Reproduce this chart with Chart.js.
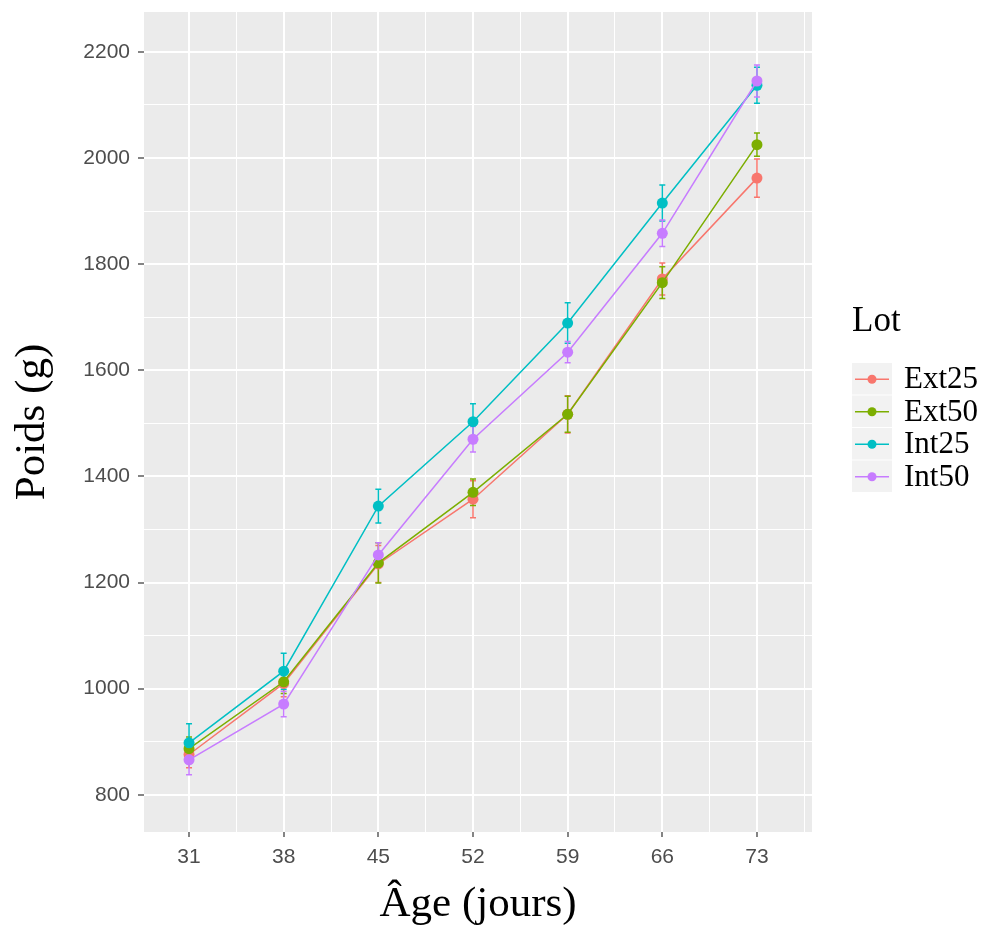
<!DOCTYPE html>
<html>
<head>
<meta charset="utf-8">
<title>Poids selon l'âge</title>
<script src="https://cdn.jsdelivr.net/npm/chart.js@4.4.1/dist/chart.umd.min.js"></script>
<style>
  html, body { margin: 0; padding: 0; background: #ffffff; }
  #cadre { position: relative; width: 983px; height: 931px; }
</style>
</head>
<body>
<div id="cadre"><canvas id="graf"></canvas></div>
<script>
// âges de pesée (jours)
var ages = [31, 38, 45, 52, 59, 66, 73];
var lots = ['Ext25', 'Ext50', 'Int25', 'Int50'];
var couleurs = ['#F8766D', '#7CAE00', '#00BFC4', '#C77CFF'];

// poids moyens (g)
var poidsExt25 = [876, 1010, 1235, 1357, 1517, 1772, 1962];
var poidsExt50 = [887, 1013, 1237, 1370, 1517, 1765, 2025];
var poidsInt25 = [898, 1033, 1344, 1503, 1689, 1915, 2137];
var poidsInt50 = [866, 971, 1252, 1470, 1634, 1858, 2145];

// demi-longueur des barres d'erreur (g)
var errExt25 = [25, 25, 35, 35, 35, 30, 36];
var errExt50 = [22, 22, 38, 25, 34, 30, 22];
var errInt25 = [36, 34, 32, 34, 38, 34, 34];
var errInt50 = [28, 24, 23, 24, 20, 25, 30];

// graduations
var yMajeurs = [800, 1000, 1200, 1400, 1600, 1800, 2000, 2200];
var yMineurs = [900, 1100, 1300, 1500, 1700, 1900, 2100];
var xMineurs = [34.5, 41.5, 48.5, 55.5, 62.5, 69.5, 76.5];

var poids = [poidsExt25, poidsExt50, poidsInt25, poidsInt50];
var erreurs = [errExt25, errExt50, errInt25, errInt50];

var datasets = [];
lots.forEach(function (lot, k) {
    datasets.push({
        label: lot,
        data: ages.map(function (a, i) { return { x: a, y: poids[k][i] }; }),
        erreurs: erreurs[k],
        borderColor: couleurs[k],
        backgroundColor: couleurs[k],
        borderWidth: 1.5,
        pointRadius: 5.5,
        pointBorderWidth: 0,
        tension: 0,
        order: lots.length - k
    });
});

function estMajeur(ctx, liste) {
    return ctx.tick && liste.indexOf(ctx.tick.value) !== -1;
}

// fond gris du panneau
var fondPanneau = {
    id: 'fondPanneau',
    beforeDraw: function (chart) {
        var a = chart.chartArea, ctx = chart.ctx;
        ctx.save();
        ctx.fillStyle = '#EBEBEB';
        ctx.fillRect(a.left, a.top, a.right - a.left, a.bottom - a.top);
        ctx.restore();
    }
};

// barres d'erreur (moyenne +/- erreur)
var barresErreur = {
    id: 'barresErreur',
    beforeDatasetsDraw: function (chart) {
        var ctx = chart.ctx, xs = chart.scales.x, ys = chart.scales.y;
        chart.data.datasets.forEach(function (ds) {
            ctx.save();
            ctx.strokeStyle = ds.borderColor;
            ctx.lineWidth = 1.5;
            ds.erreurs.forEach(function (e, i) {
                var px = xs.getPixelForValue(ds.data[i].x);
                var haut = ys.getPixelForValue(ds.data[i].y + e);
                var bas = ys.getPixelForValue(ds.data[i].y - e);
                ctx.beginPath();
                ctx.moveTo(px, haut); ctx.lineTo(px, bas);
                ctx.moveTo(px - 3, haut); ctx.lineTo(px + 3, haut);
                ctx.moveTo(px - 3, bas); ctx.lineTo(px + 3, bas);
                ctx.stroke();
            });
            ctx.restore();
        });
    }
};

// légende façon ggplot
var legendeLot = {
    id: 'legendeLot',
    afterDraw: function (chart) {
        var ctx = chart.ctx;
        var x0 = chart.chartArea.right + 40;
        var y0 = 363;
        var h = 32.5;
        ctx.save();
        ctx.fillStyle = '#000';
        ctx.textBaseline = 'middle';
        ctx.textAlign = 'left';
        ctx.font = '35px "Liberation Serif"';
        ctx.fillText('Lot', x0, 322);
        chart.data.datasets.forEach(function (ds, i) {
            var cy = y0 + i * h + h / 2;
            ctx.fillStyle = '#F2F2F2';
            ctx.fillRect(x0, y0 + i * h, 40, h - 1);
            ctx.strokeStyle = ds.borderColor;
            ctx.lineWidth = 1.5;
            ctx.beginPath();
            ctx.moveTo(x0 + 3, cy); ctx.lineTo(x0 + 37, cy);
            ctx.stroke();
            ctx.fillStyle = ds.borderColor;
            ctx.beginPath();
            ctx.arc(x0 + 20, cy, 4.5, 0, Math.PI * 2);
            ctx.fill();
            ctx.fillStyle = '#000';
            ctx.font = '31px "Liberation Serif"';
            ctx.fillText(ds.label, x0 + 52, cy + 1);
        });
        ctx.restore();
    }
};

var ctx = document.getElementById('graf');
var graf = new Chart(ctx, {
    type: 'line',
    data: { datasets: datasets },
    plugins: [fondPanneau, barresErreur, legendeLot],
    options: {
        responsive: true,
        maintainAspectRatio: false,
        animation: false,
        layout: { padding: { left: 0, right: 171, top: 12, bottom: 0 } },
        plugins: {
            legend: { display: false },
            tooltip: { enabled: false }
        },
        scales: {
            x: {
                type: 'linear',
                min: 27.67,
                max: 77.07,
                afterBuildTicks: function (s) {
                    s.ticks = ages.concat(xMineurs).sort(function (a, b) { return a - b; })
                        .map(function (v) { return { value: v }; });
                },
                afterFit: function (s) {
                    s.height = 99;
                    s.paddingLeft = 0;
                    s.paddingRight = 0;
                },
                border: { display: false },
                grid: {
                    color: '#FFFFFF',
                    lineWidth: function (c) { return estMajeur(c, ages) ? 2 : 1; },
                    tickColor: function (c) { return estMajeur(c, ages) ? '#333333' : 'rgba(0,0,0,0)'; },
                    tickLength: 5,
                    tickWidth: 1.2
                },
                ticks: {
                    autoSkip: false,
                    maxRotation: 0,
                    padding: 8,
                    color: '#4D4D4D',
                    font: { family: 'Liberation Sans', size: 21 },
                    callback: function (v) { return ages.indexOf(v) !== -1 ? String(v) : ''; }
                },
                title: {
                    display: true,
                    text: 'Âge (jours)',
                    color: '#000',
                    font: { family: 'Liberation Serif', size: 43 },
                    padding: { top: 0, bottom: 0 }
                }
            },
            y: {
                type: 'linear',
                min: 730,
                max: 2275,
                afterBuildTicks: function (s) {
                    s.ticks = yMajeurs.concat(yMineurs).sort(function (a, b) { return a - b; })
                        .map(function (v) { return { value: v }; });
                },
                afterFit: function (s) {
                    s.width = 144;
                    s.paddingTop = 0;
                    s.paddingBottom = 0;
                },
                border: { display: false },
                grid: {
                    color: '#FFFFFF',
                    lineWidth: function (c) { return estMajeur(c, yMajeurs) ? 2 : 1; },
                    tickColor: function (c) { return estMajeur(c, yMajeurs) ? '#333333' : 'rgba(0,0,0,0)'; },
                    tickLength: 6,
                    tickWidth: 1.2
                },
                ticks: {
                    autoSkip: false,
                    padding: 8,
                    color: '#4D4D4D',
                    font: { family: 'Liberation Sans', size: 21 },
                    callback: function (v) { return yMajeurs.indexOf(v) !== -1 ? String(v) : ''; }
                },
                title: {
                    display: true,
                    text: 'Poids (g)',
                    color: '#000',
                    font: { family: 'Liberation Serif', size: 43 },
                    padding: { top: 7, bottom: 0 }
                }
            }
        }
    }
});
</script>
</body>
</html>
